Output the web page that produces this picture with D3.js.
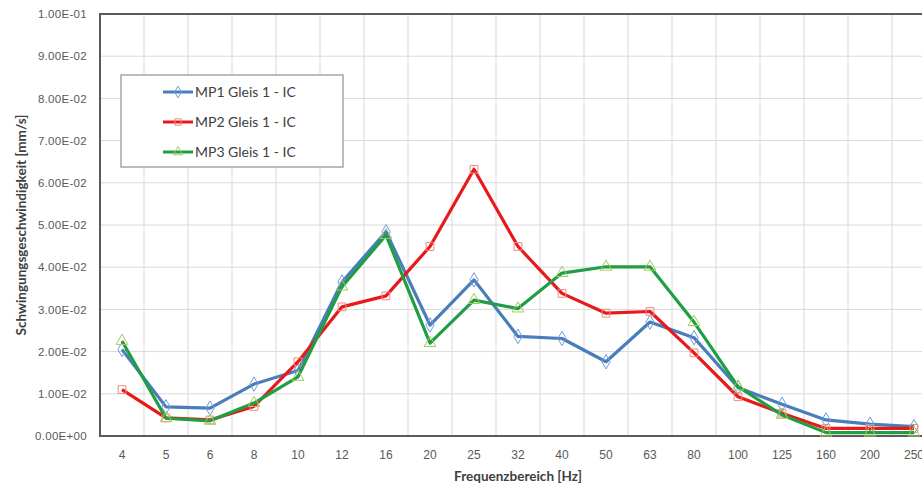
<!DOCTYPE html>
<html>
<head>
<meta charset="utf-8">
<script src="https://cdn.jsdelivr.net/npm/d3@7"></script>
<style>
  body { margin: 0; background: #fff; }
  svg { display: block; font-family: Lato, "Open Sans", sans-serif; }
</style>
</head>
<body>
<svg id="chart" width="922" height="486"></svg>
<script>
// categories (Hz)
const freqs = ["4", "5", "6", "8", "10", "12", "16", "20", "25", "32", "40", "50", "63", "80", "100", "125", "160", "200", "250"];

const mp1 = [0.0205, 0.0069, 0.0066, 0.0123, 0.0155, 0.0365, 0.0484, 0.0263, 0.0370, 0.0236, 0.0231, 0.0176, 0.0270, 0.0233, 0.0115, 0.0075, 0.0038, 0.0028, 0.0022];
const mp2 = [0.0110, 0.0043, 0.0038, 0.0070, 0.0176, 0.0306, 0.0332, 0.0449, 0.0632, 0.0449, 0.0338, 0.0291, 0.0295, 0.0197, 0.0093, 0.0054, 0.0018, 0.0018, 0.0018];
const mp3 = [0.0225, 0.0042, 0.0036, 0.0078, 0.0140, 0.0354, 0.0476, 0.0220, 0.0322, 0.0302, 0.0386, 0.0401, 0.0401, 0.0270, 0.0117, 0.0050, 0.0008, 0.0008, 0.0008];

const yTicks = [0, 0.01, 0.02, 0.03, 0.04, 0.05, 0.06, 0.07, 0.08, 0.09, 0.1];

const series = [
  {name: "MP1 Gleis 1 - IC", values: mp1, color: "#4a7ebb", mark: "#6f9be0", symbol: d3.symbolDiamond},
  {name: "MP2 Gleis 1 - IC", values: mp2, color: "#e8191c", mark: "#f08a80", symbol: d3.symbolSquare},
  {name: "MP3 Gleis 1 - IC", values: mp3, color: "#1f9e44", mark: "#a8c85a", symbol: d3.symbolTriangle}
];

const svg = d3.select("#chart");
const pLeft = 100, pRight = 936, pTop = 14, pBottom = 436;

const x = d3.scaleBand().domain(freqs).range([pLeft, pRight]).padding(0);
const y = d3.scaleLinear().domain([0, 0.1]).range([pBottom, pTop]);
const cx = d => x(d) + x.bandwidth() / 2;

function sci(v) {
  if (v === 0) return "0.00E+00";
  let e = Math.floor(Math.log10(v) + 1e-9);
  let m = v / Math.pow(10, e);
  let s = e < 0 ? "-" : "+";
  return m.toFixed(2) + "E" + s + String(Math.abs(e)).padStart(2, "0");
}

// grid
svg.append("g")
  .selectAll("line")
  .data(yTicks.slice(1))
  .join("line")
    .attr("x1", pLeft).attr("x2", pRight)
    .attr("y1", d => y(d)).attr("y2", d => y(d))
    .attr("stroke", "#d9d9d9").attr("stroke-width", 1);

svg.append("g")
  .selectAll("line")
  .data(freqs.slice(1))
  .join("line")
    .attr("x1", d => x(d)).attr("x2", d => x(d))
    .attr("y1", pTop).attr("y2", pBottom)
    .attr("stroke", "#d9d9d9").attr("stroke-width", 1);

// plot border
svg.append("rect")
  .attr("x", pLeft).attr("y", pTop)
  .attr("width", pRight - pLeft).attr("height", pBottom - pTop)
  .attr("fill", "none").attr("stroke", "#5a5a5a").attr("stroke-width", 2);

// Y axis labels
const yAxis = svg.append("g")
  .attr("transform", "translate(" + pLeft + ",0)")
  .call(d3.axisLeft(y).tickValues(yTicks).tickFormat(sci).tickSize(0).tickPadding(13));
yAxis.select(".domain").remove();
yAxis.selectAll("text").attr("fill", "#595959").style("font-size", "11.5px").style("letter-spacing", "0.3px");

// X axis labels
const xAxis = svg.append("g")
  .attr("transform", "translate(0," + pBottom + ")")
  .call(d3.axisBottom(x).tickSize(0).tickPadding(14));
xAxis.select(".domain").remove();
xAxis.selectAll("text").attr("fill", "#595959").style("font-size", "12px");

// axis titles
svg.append("text")
  .attr("x", (pLeft + pRight) / 2).attr("y", 481)
  .attr("text-anchor", "middle")
  .attr("font-weight", "bold").attr("font-size", "13.5px").attr("fill", "#404040")
  .text("Frequenzbereich [Hz]");

svg.append("text")
  .attr("transform", "translate(26," + (pTop + pBottom) / 2 + ") rotate(-90)")
  .attr("text-anchor", "middle")
  .attr("font-weight", "bold").attr("font-size", "13.5px").attr("fill", "#404040")
  .text("Schwingungsgeschwindigkeit [mm/s]");

// lines + markers
const line = d3.line()
  .x((d, i) => cx(freqs[i]))
  .y(d => y(d));

series.forEach(function (s) {
  svg.append("path")
    .datum(s.values)
    .attr("fill", "none")
    .attr("stroke", s.color)
    .attr("stroke-width", 3.2)
    .attr("stroke-linejoin", "round")
    .attr("d", line);

  svg.append("g")
    .selectAll("path")
    .data(s.values)
    .join("path")
      .attr("transform", (d, i) => "translate(" + cx(freqs[i]) + "," + y(d) + ")")
      .attr("d", d3.symbol().type(s.symbol).size(60))
      .attr("fill", "none")
      .attr("stroke", s.mark)
      .attr("stroke-width", 1);
});

// legend
const legend = svg.append("g");
legend.append("rect")
  .attr("x", 121).attr("y", 75).attr("width", 222).attr("height", 92)
  .attr("fill", "#fff").attr("stroke", "#a6a6a6").attr("stroke-width", 1.5);

series.forEach(function (s, i) {
  const ly = 92 + i * 30;
  legend.append("line")
    .attr("x1", 163).attr("x2", 193).attr("y1", ly).attr("y2", ly)
    .attr("stroke", s.color).attr("stroke-width", 3);
  legend.append("path")
    .attr("transform", "translate(178," + ly + ")")
    .attr("d", d3.symbol().type(s.symbol).size(40))
    .attr("fill", "none").attr("stroke", s.mark).attr("stroke-width", 1);
  legend.append("text")
    .attr("x", 195).attr("y", ly + 5)
    .attr("font-size", "14px").attr("fill", "#404040")
    .text(s.name);
});
</script>
</body>
</html>
